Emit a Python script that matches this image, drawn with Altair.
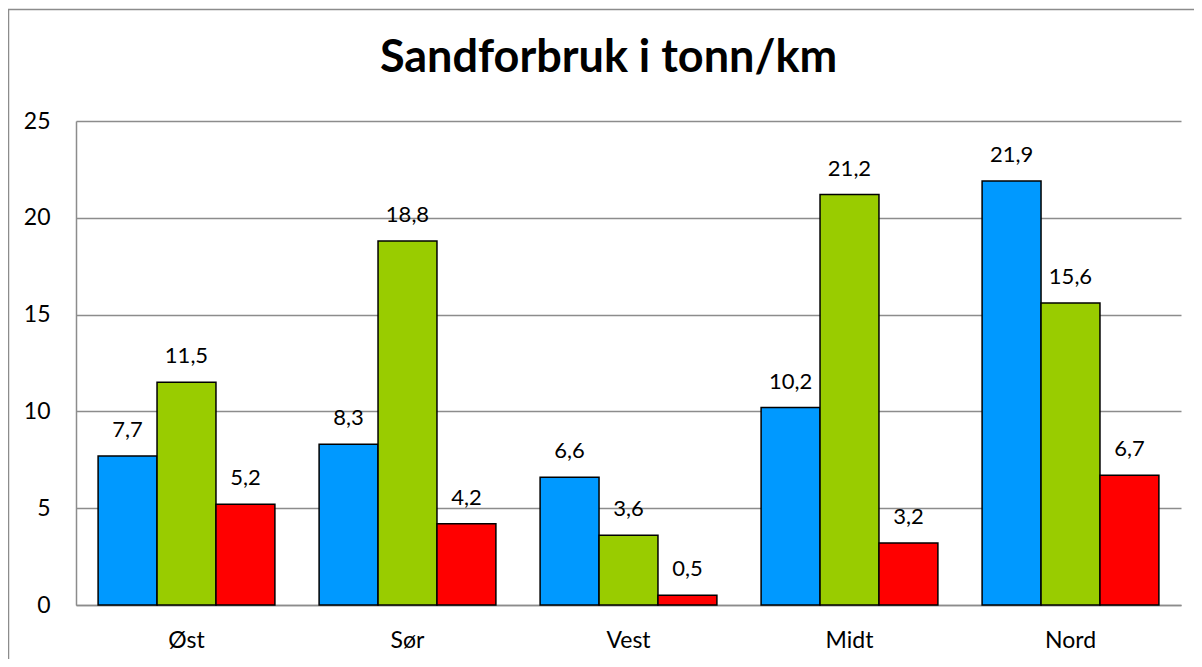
import altair as alt
import pandas as pd

categories = ["Øst", "Sør", "Vest", "Midt", "Nord"]
series_names = ["Serie 1", "Serie 2", "Serie 3"]
blue_values = [7.7, 8.3, 6.6, 10.2, 21.9]
green_values = [11.5, 18.8, 3.6, 21.2, 15.6]
red_values = [5.2, 4.2, 0.5, 3.2, 6.7]
colors = ["#0099FF", "#99CC00", "#FF0000"]
y_ticks = [0, 5, 10, 15, 20, 25]

rows = []
for s, vals in zip(series_names, [blue_values, green_values, red_values]):
    for c, v in zip(categories, vals):
        rows.append({"region": c, "serie": s, "verdi": v})
df = pd.DataFrame(rows)

FONT = "Lato"
GRID = "#8c8c8c"

x_enc = alt.X("region:N", sort=categories,
              scale=alt.Scale(paddingInner=0.2, paddingOuter=0.1),
              axis=alt.Axis(title=None, labelAngle=0, ticks=False, labelPadding=24,
                            labelFontSize=23, labelFont=FONT, labelColor="black",
                            domainColor=GRID, domainWidth=1.5))
xoff = alt.XOffset("serie:N", sort=series_names, scale=alt.Scale(paddingInner=0, paddingOuter=0))
y_enc = alt.Y("verdi:Q", scale=alt.Scale(domain=[0, 25], nice=False),
              axis=alt.Axis(title=None, values=y_ticks, ticks=False, labelPadding=26,
                            labelFontSize=23, labelFont=FONT, labelColor="black",
                            grid=True, gridColor=GRID, gridWidth=1.5,
                            domainColor=GRID, domainWidth=1.5))

base = alt.Chart(df)

bars = base.mark_bar(stroke="black", strokeWidth=1.5).encode(
    x=x_enc, xOffset=xoff, y=y_enc,
    color=alt.Color("serie:N", sort=series_names,
                    scale=alt.Scale(domain=series_names, range=colors), legend=None),
)

labels = base.transform_calculate(
    etikett="replace(format(datum.verdi, '.1f'), '.', ',')"
).mark_text(dy=-19, fontSize=22, font=FONT, color="black", baseline="alphabetic").encode(
    x=alt.X("region:N", sort=categories), xOffset=alt.XOffset("serie:N", sort=series_names),
    y="verdi:Q", text="etikett:N",
)

frame = alt.Chart(pd.DataFrame({"a": [0]})).mark_rect(
    fill=None, stroke=GRID, strokeWidth=1.5
).encode(
    x=alt.value(-67.5), x2=alt.value(1200), y=alt.value(-111.5), y2=alt.value(700)
)

chart = alt.layer(frame, bars, labels).properties(
    width=1105, height=484,
    autosize=alt.AutoSizeParams(type="none"),
    padding={"left": 68, "right": 13, "top": 113, "bottom": 54},
    title=alt.TitleParams("Sandforbruk i tonn/km", fontSize=45, font=FONT, fontWeight="bold",
                          color="black", anchor="middle", frame="group",
                          baseline="alphabetic", offset=-108, dx=-20),
).configure_view(stroke=None)

chart.save("out.html", embed_options={"renderer": "svg", "actions": False})
